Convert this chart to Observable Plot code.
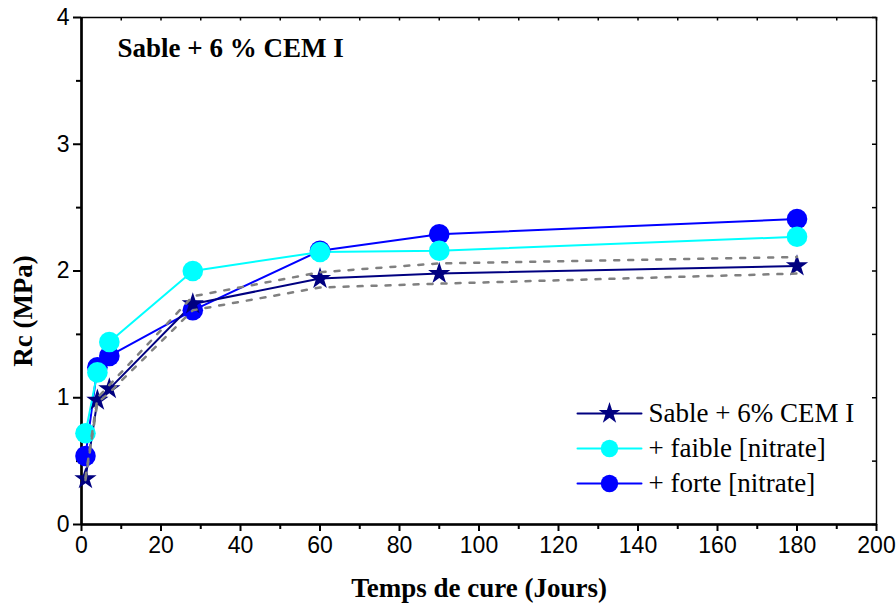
<!DOCTYPE html>
<html>
<head>
<meta charset="utf-8">
<script src="https://cdn.jsdelivr.net/npm/d3@7"></script>
<script src="https://cdn.jsdelivr.net/npm/@observablehq/plot@0.6"></script>
<style>
  html, body { margin: 0; padding: 0; background: #fff; }
  .serif text { font-family: "Liberation Serif", "Times New Roman", serif; }
</style>
</head>
<body>
<div id="chart"></div>
<script>
// ---- data ----
const days   = [1, 4, 7, 28, 60, 90, 180];
const sable  = [0.36, 0.98, 1.07, 1.74, 1.94, 1.98, 2.04];
const faible = [0.72, 1.20, 1.44, 2.00, 2.15, 2.16, 2.27];
const forte  = [0.54, 1.24, 1.33, 1.69, 2.16, 2.29, 2.41];
const upper  = [0.37, 1.00, 1.10, 1.80, 1.99, 2.06, 2.11];
const lower  = [0.35, 0.96, 1.04, 1.69, 1.87, 1.90, 1.98];

const xMajor = [0, 20, 40, 60, 80, 100, 120, 140, 160, 180, 200];
const xMinor = [10, 30, 50, 70, 90, 110, 130, 150, 170, 190];
const yMajor = [0, 1, 2, 3, 4];
const yMinor = [0.5, 1.5, 2.5, 3.5];
const xTop   = [...xMajor, ...xMinor];
const yRight = [...yMajor, ...yMinor];

const seriesNames = ["Sable + 6% CEM I", "+ faible [nitrate]", "+ forte [nitrate]"];
const title = "Sable + 6 % CEM I";
const xTitle = "Temps de cure (Jours)";
const yTitle = "Rc (MPa)";

const NAVY = "#000080", CYAN = "#00ffff", BLUE = "#0000ff", GRAY = "#808080";

const toRows = (vals) => days.map((d, i) => ({x: d, y: vals[i]}));
const sableRows = toRows(sable), faibleRows = toRows(faible), forteRows = toRows(forte);
const upperRows = toRows(upper), lowerRows = toRows(lower);

const W = 896, H = 606, mT = 17, mR = 20, mB = 82, mL = 81;
const fw = W - mL - mR, fh = H - mT - mB;

const serif = "Liberation Serif";
const segShape = { draw(context, l) { context.moveTo(0, 0); context.lineTo(0, -l); } };

const legendItems = [
  {name: seriesNames[0], color: NAVY, symbol: "star", r: 6.8},
  {name: seriesNames[1], color: CYAN, symbol: "circle", r: 8.7},
  {name: seriesNames[2], color: BLUE, symbol: "circle", r: 8.7}
];
const legendMarks = legendItems.flatMap((it, i) => {
  const dy = 396 + 35 * i;
  return [
    Plot.vector([0], {frameAnchor: "top-left", dx: 496, dy, length: 64, rotate: 90, anchor: "start", shape: segShape, stroke: it.color, strokeWidth: 2}),
    Plot.dot([0], {frameAnchor: "top-left", dx: 528, dy, r: it.r, symbol: it.symbol, fill: it.color, stroke: "none"}),
    Plot.text([it.name], {frameAnchor: "top-left", dx: 567, dy, text: d => d, textAnchor: "start", lineAnchor: "middle", fontFamily: serif, fontSize: 27, fill: "black", className: "serif"})
  ];
});

const chart = Plot.plot({
  width: W, height: H,
  marginTop: mT, marginRight: mR, marginBottom: mB, marginLeft: mL,
  x: {domain: [0, 200]},
  y: {domain: [0, 4]},
  style: {fontFamily: "'Liberation Sans', Arial, sans-serif", fontSize: "23px", color: "black", background: "white", overflow: "visible"},
  marks: [
    Plot.frame({stroke: "black", strokeWidth: 1.5}),
    Plot.ruleX([0], {stroke: "black", strokeWidth: 2.6}),
    Plot.ruleY([0], {stroke: "black", strokeWidth: 2.6}),
    Plot.axisX(xMajor, {tickSize: 7, tickPadding: 5, strokeWidth: 2, label: null, fontSize: 23, tickFormat: d => String(d)}),
    Plot.axisX(xMinor, {tickSize: 5, strokeWidth: 2, label: null, tickFormat: () => ""}),
    Plot.axisY(yMajor, {tickSize: 8, tickPadding: 4, strokeWidth: 2, label: null, fontSize: 23, tickFormat: d => String(d)}),
    Plot.axisY(yMinor, {tickSize: 5, strokeWidth: 2, label: null, tickFormat: () => ""}),
    Plot.tickX(xTop, {x: d => d, insetBottom: fh - 3.5, stroke: "black", strokeWidth: 1.5}),
    Plot.tickY(yRight, {y: d => d, insetLeft: fw - 4, stroke: "black", strokeWidth: 1.5}),
    // series lines
    Plot.line(forteRows, {x: "x", y: "y", stroke: BLUE, strokeWidth: 2}),
    Plot.line(faibleRows, {x: "x", y: "y", stroke: CYAN, strokeWidth: 2}),
    Plot.line(sableRows, {x: "x", y: "y", stroke: NAVY, strokeWidth: 2}),
    // markers
    Plot.dot(forteRows, {x: "x", y: "y", r: 10.3, fill: BLUE, stroke: "none"}),
    Plot.dot(faibleRows, {x: "x", y: "y", r: 10.3, fill: CYAN, stroke: "none"}),
    Plot.dot(sableRows, {x: "x", y: "y", r: 7, symbol: "star", fill: NAVY, stroke: "none"}),
    // dashed bounds
    Plot.line(upperRows, {x: "x", y: "y", stroke: GRAY, strokeWidth: 2.5, strokeDasharray: "5,9"}),
    Plot.line(lowerRows, {x: "x", y: "y", stroke: GRAY, strokeWidth: 2.5, strokeDasharray: "5,9"}),
    // titles
    Plot.text([title], {frameAnchor: "top-left", dx: 36, dy: 31, text: d => d, textAnchor: "start", lineAnchor: "middle", fontFamily: serif, fontWeight: "bold", fontSize: 27, fill: "black", className: "serif"}),
    Plot.text([xTitle], {frameAnchor: "bottom", dy: 64, text: d => d, textAnchor: "middle", lineAnchor: "middle", fontFamily: serif, fontWeight: "bold", fontSize: 27, fill: "black", className: "serif"}),
    Plot.text([yTitle], {frameAnchor: "left", dx: -58, dy: 40, rotate: -90, text: d => d, textAnchor: "middle", lineAnchor: "middle", fontFamily: serif, fontWeight: "bold", fontSize: 27, fill: "black", className: "serif"}),
    ...legendMarks
  ]
});
document.getElementById("chart").appendChild(chart);
</script>
</body>
</html>
